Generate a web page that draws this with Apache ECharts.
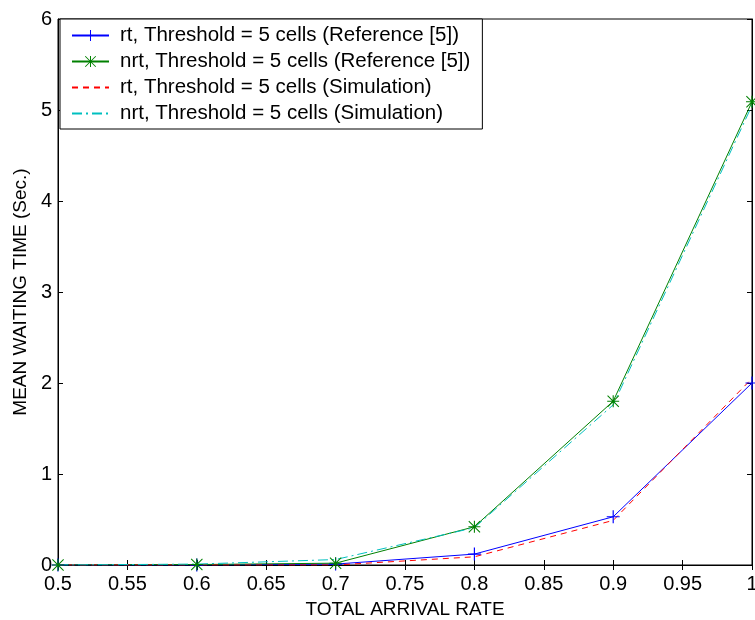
<!DOCTYPE html>
<html>
<head>
<meta charset="utf-8">
<script src="https://cdn.jsdelivr.net/npm/echarts@6/dist/echarts.min.js"></script>
<style>html,body{margin:0;padding:0;background:#fff}#c{width:755px;height:620px}</style>
</head>
<body>
<div id="c"></div>
<script>
const xValues = [0.5, 0.6, 0.7, 0.8, 0.9, 1.0];
const rtReference = [0, 0, 0.01, 0.12, 0.53, 2.0];
const nrtReference = [0, 0.005, 0.02, 0.42, 1.80, 5.09];
const rtSimulation = [0, 0, 0, 0.09, 0.49, 2.05];
const nrtSimulation = [0, 0.01, 0.06, 0.41, 1.76, 5.05];
const seriesNames = [
  'rt, Threshold = 5 cells (Reference [5])',
  'nrt, Threshold = 5 cells (Reference [5])',
  'rt, Threshold = 5 cells (Simulation)',
  'nrt, Threshold = 5 cells (Simulation)'
];
const xTitle = 'TOTAL ARRIVAL RATE';
const yTitle = 'MEAN WAITING TIME (Sec.)';

const pair = arr => xValues.map((x, i) => [x, arr[i]]);
const plusPath = 'path://M0,4.55h10v0.9h-10zM4.55,0h0.9v10h-0.9z';
const starPath = 'path://M0,4.55h10v0.9h-10zM4.55,0h0.9v10h-0.9zM0.6,0L10,9.4L9.4,10L0,0.6zM9.4,0L10,0.6L0.6,10L0,9.4z';
const font = 'Liberation Sans, Arial, sans-serif';

const chart = echarts.init(document.getElementById('c'), null, {renderer: 'canvas'});
chart.setOption({
  animation: false,
  backgroundColor: '#fff',
  textStyle: {fontFamily: font},
  grid: {left: 58, right: 3, top: 19, bottom: 55, show: true, borderColor: '#000', borderWidth: 1,
         backgroundColor: 'transparent', containLabel: false, outerBoundsMode: 'none'},
  legend: {
    orient: 'vertical', left: 60, top: 19,
    backgroundColor: '#fff', borderColor: '#000', borderWidth: 1,
    padding: [6, 12, 5, 11],
    itemWidth: 37, itemHeight: 14, itemGap: 5,
    textStyle: {fontSize: 20.5, color: '#000', fontFamily: font, padding: [0, 0, 0, 6]},
    data: [
      {name: seriesNames[0]},
      {name: seriesNames[1]},
      {name: seriesNames[2], itemStyle: {opacity: 0}},
      {name: seriesNames[3], itemStyle: {opacity: 0}}
    ]
  },
  xAxis: [{
    type: 'value', min: 0.5, max: 1, interval: 0.05,
    name: xTitle, nameLocation: 'middle', nameGap: 35,
    nameTextStyle: {fontSize: 19, color: '#000'},
    axisLine: {show: true, lineStyle: {color: '#000'}},
    axisTick: {show: true, inside: true, length: 5, lineStyle: {color: '#000'}},
    axisLabel: {fontSize: 20, color: '#000', margin: 9},
    splitLine: {show: false}
  }, {
    type: 'value', min: 0.5, max: 1, interval: 0.05, position: 'top',
    axisLine: {show: true, lineStyle: {color: '#000'}},
    axisTick: {show: true, inside: true, length: 5, lineStyle: {color: '#000'}},
    axisLabel: {show: false}, splitLine: {show: false}
  }],
  yAxis: [{
    type: 'value', min: 0, max: 6, interval: 1,
    name: yTitle, nameLocation: 'middle', nameGap: 28,
    nameTextStyle: {fontSize: 19, color: '#000'},
    axisLine: {show: true, lineStyle: {color: '#000'}},
    axisTick: {show: true, inside: true, length: 5, lineStyle: {color: '#000'}},
    axisLabel: {fontSize: 20, color: '#000', margin: 6},
    splitLine: {show: false}
  }, {
    type: 'value', min: 0, max: 6, interval: 1, position: 'right',
    axisLine: {show: true, lineStyle: {color: '#000'}},
    axisTick: {show: true, inside: true, length: 5, lineStyle: {color: '#000'}},
    axisLabel: {show: false}, splitLine: {show: false}
  }],
  series: [{
    name: seriesNames[0], type: 'line', data: pair(rtReference),
    symbol: plusPath, symbolSize: 13, showSymbol: true,
    lineStyle: {color: '#0000ff', width: 1}, itemStyle: {color: '#0000ff'}
  }, {
    name: seriesNames[1], type: 'line', data: pair(nrtReference),
    symbol: starPath, symbolSize: 12, showSymbol: true,
    lineStyle: {color: '#008000', width: 1}, itemStyle: {color: '#008000'}
  }, {
    name: seriesNames[2], type: 'line', data: pair(rtSimulation),
    symbol: 'none',
    lineStyle: {color: '#ff0000', width: 1, type: [6, 5]}, itemStyle: {color: '#ff0000'}
  }, {
    name: seriesNames[3], type: 'line', data: pair(nrtSimulation),
    symbol: 'none',
    lineStyle: {color: '#00bfbf', width: 1, type: [10, 4, 2, 4]}, itemStyle: {color: '#00bfbf'}
  }]
});
</script>
</body>
</html>
